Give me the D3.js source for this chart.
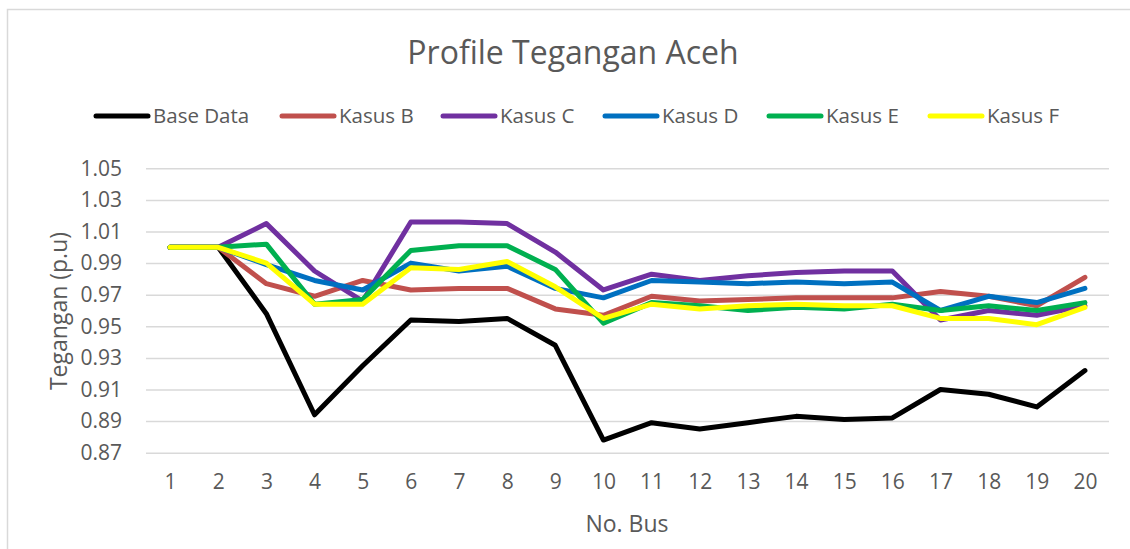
<!DOCTYPE html>
<html>
<head>
<meta charset="utf-8">
<script src="https://cdn.jsdelivr.net/npm/d3@7"></script>
<style>
  html, body { margin: 0; padding: 0; background: #fff; }
  svg { display: block; }
  text { font-family: 'Open Sans', sans-serif; fill: #595959; }
</style>
</head>
<body>
<svg id="chart" width="1130" height="549"></svg>
<script>
// bus numbers on the x axis
const buses = [1, 2, 3, 4, 5, 6, 7, 8, 9, 10, 11, 12, 13, 14, 15, 16, 17, 18, 19, 20];
const yTicks = [0.87, 0.89, 0.91, 0.93, 0.95, 0.97, 0.99, 1.01, 1.03, 1.05];

// values (p.u)
const baseData = [1.000, 1.000, 0.958, 0.894, 0.925, 0.954, 0.953, 0.955, 0.938, 0.878, 0.889, 0.885, 0.889, 0.893, 0.891, 0.892, 0.910, 0.907, 0.899, 0.922];
const kasusB = [1.000, 1.000, 0.977, 0.969, 0.979, 0.973, 0.974, 0.974, 0.961, 0.957, 0.969, 0.966, 0.967, 0.968, 0.968, 0.968, 0.972, 0.969, 0.963, 0.981];
const kasusC = [1.000, 1.000, 1.015, 0.985, 0.966, 1.016, 1.016, 1.015, 0.997, 0.973, 0.983, 0.979, 0.982, 0.984, 0.985, 0.985, 0.954, 0.960, 0.957, 0.963];
const kasusD = [1.000, 1.000, 0.989, 0.979, 0.973, 0.990, 0.985, 0.988, 0.974, 0.968, 0.979, 0.978, 0.977, 0.978, 0.977, 0.978, 0.960, 0.969, 0.965, 0.974];
const kasusE = [1.000, 1.000, 1.002, 0.964, 0.967, 0.998, 1.001, 1.001, 0.986, 0.952, 0.965, 0.963, 0.960, 0.962, 0.961, 0.964, 0.960, 0.963, 0.960, 0.965];
const kasusF = [1.000, 1.000, 0.990, 0.964, 0.964, 0.987, 0.986, 0.991, 0.975, 0.955, 0.964, 0.961, 0.963, 0.964, 0.963, 0.963, 0.955, 0.955, 0.951, 0.962];

const seriesNames = ['Base Data', 'Kasus B', 'Kasus C', 'Kasus D', 'Kasus E', 'Kasus F'];
const seriesValues = [baseData, kasusB, kasusC, kasusD, kasusE, kasusF];
const seriesColors = ['#000000', '#C0504D', '#7030A0', '#0070C0', '#00B050', '#FFFF00'];

const FONT = "'Open Sans', sans-serif";
const svg = d3.select('#chart');

// chart frame
svg.append('rect')
  .attr('x', 7.5).attr('y', 9.5)
  .attr('width', 1140).attr('height', 560)
  .attr('fill', 'none')
  .attr('stroke', '#d9d9d9')
  .attr('stroke-width', 1.5);

const plot = { left: 146, right: 1109, top: 168.3, bottom: 452.7 };

const x = d3.scalePoint()
  .domain(buses)
  .range([plot.left, plot.right])
  .padding(0.5);

const y = d3.scaleLinear()
  .domain([0.87, 1.05])
  .range([plot.bottom, plot.top]);

// y axis with gridlines
const yAxis = svg.append('g')
  .attr('transform', `translate(${plot.left},0)`)
  .call(d3.axisLeft(y)
    .tickValues(yTicks)
    .tickFormat(d3.format('.2f'))
    .tickSizeInner(-(plot.right - plot.left))
    .tickSizeOuter(0)
    .tickPadding(24));
yAxis.select('.domain').remove();
yAxis.selectAll('.tick line').attr('stroke', '#d9d9d9').attr('stroke-width', 1.5);
yAxis.selectAll('.tick text')
  .attr('font-size', 21)
  .attr('fill', '#595959')
  .style('font-family', FONT);

// x axis labels
const xAxis = svg.append('g')
  .attr('transform', `translate(0,${plot.bottom})`)
  .call(d3.axisBottom(x).tickSize(0).tickPadding(21));
xAxis.select('.domain').remove();
xAxis.selectAll('.tick text')
  .attr('font-size', 21)
  .attr('fill', '#595959')
  .style('font-family', FONT);

// series lines, base first so yellow ends on top
const line = d3.line()
  .x((d, i) => x(buses[i]))
  .y(d => y(d));

svg.append('g')
  .selectAll('path')
  .data(seriesValues)
  .join('path')
  .attr('d', line)
  .attr('fill', 'none')
  .attr('stroke', (d, i) => seriesColors[i])
  .attr('stroke-width', 5)
  .attr('stroke-linejoin', 'round')
  .attr('stroke-linecap', 'round');

// title
svg.append('text')
  .attr('x', 573).attr('y', 64)
  .attr('text-anchor', 'middle')
  .attr('font-size', 32)
  .text('Profile Tegangan Aceh');

// legend
const legendX = [94, 280, 441, 603, 767, 928];
const legend = svg.append('g')
  .selectAll('g')
  .data(seriesNames)
  .join('g')
  .attr('transform', (d, i) => `translate(${legendX[i]},116)`);
legend.append('line')
  .attr('x1', 2).attr('x2', 54)
  .attr('stroke', (d, i) => seriesColors[i])
  .attr('stroke-width', 5)
  .attr('stroke-linecap', 'round');
legend.append('text')
  .attr('x', 59).attr('y', 0)
  .attr('dy', '0.35em')
  .attr('font-size', 20.5)
  .text(d => d);

// axis titles
svg.append('text')
  .attr('x', 627).attr('y', 532)
  .attr('text-anchor', 'middle')
  .attr('font-size', 23)
  .text('No. Bus');

svg.append('text')
  .attr('transform', 'translate(67,311) rotate(-90)')
  .attr('text-anchor', 'middle')
  .attr('font-size', 23)
  .text('Tegangan (p.u)');
</script>
</body>
</html>
